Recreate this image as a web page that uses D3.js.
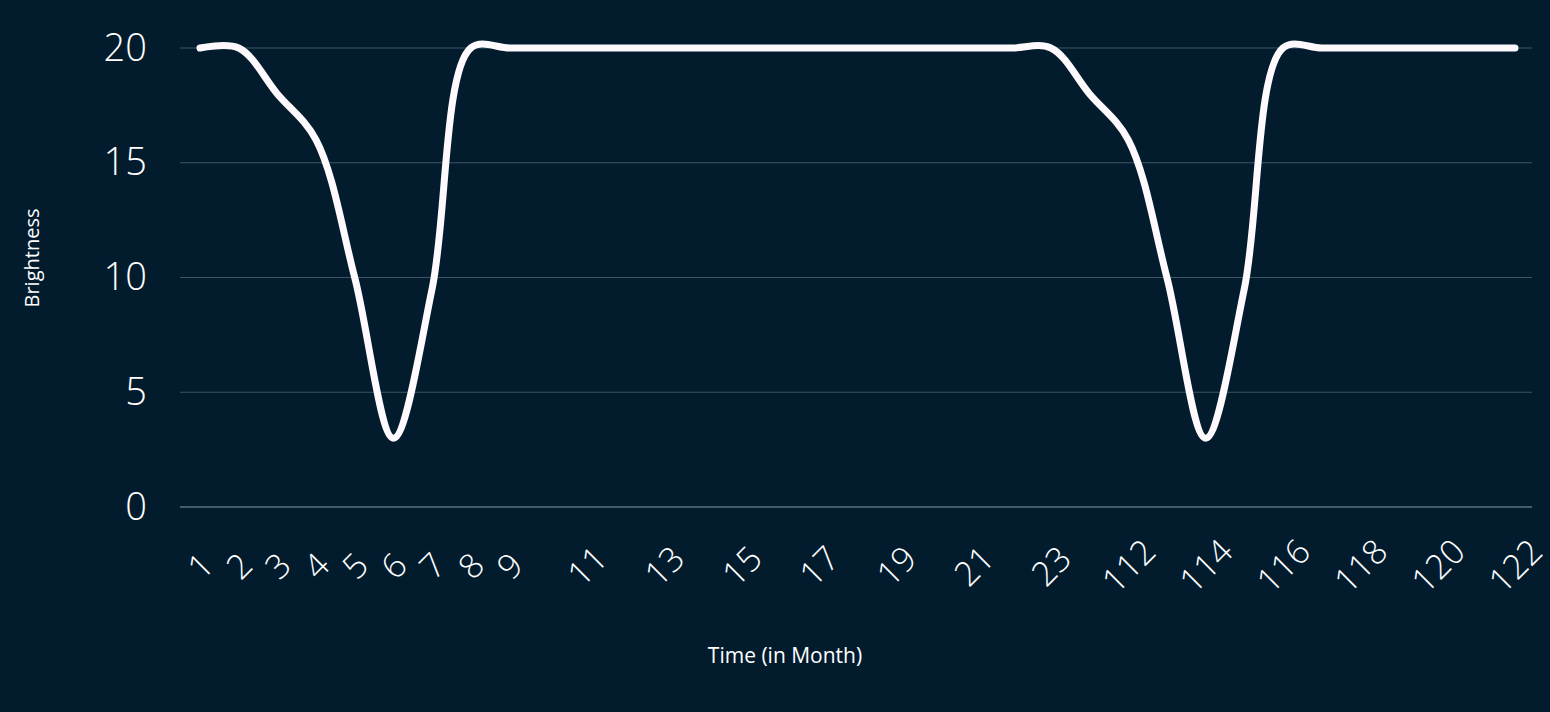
<!DOCTYPE html>
<html><head><meta charset="utf-8">
<script src="https://cdn.jsdelivr.net/npm/d3@7"></script>
<style>body{margin:0;background:#021c2e;}svg{display:block;font-family:"Open Sans",sans-serif;}</style>
</head><body>
<svg id="chart" width="1550" height="712"></svg>
<script>
const months = [1,2,3,4,5,6,7,8,9,10,11,12,13,14,15,16,17,18,19,20,21,22,23,
                111,112,113,114,115,116,117,118,119,120,121,122];
const brightness = [20,20,18,16,10,3,9.5,20,20,20,20,20,20,20,20,20,20,20,20,20,20,20,20,
                    18,16,10,3,9.5,20,20,20,20,20,20,20];
const shownLabels = [1,2,3,4,5,6,7,8,9,11,13,15,17,19,21,23,112,114,116,118,120,122];
const yTicks = [0,5,10,15,20];

const svg = d3.select("#chart");
const W = 1550, H = 712;
svg.append("rect").attr("width",W).attr("height",H).attr("fill","#021c2e");

const x = d3.scalePoint().domain(months).range([200,1515]);
const y = d3.scaleLinear().domain([0,20]).range([507,48]);

// gridlines
svg.append("g").selectAll("line").data(yTicks).join("line")
  .attr("x1",180).attr("x2",1532)
  .attr("y1",d=>y(d)).attr("y2",d=>y(d))
  .attr("stroke",d=>d==0?"#8a9aa6":"#3d5564").attr("stroke-width",1.2);

// y axis labels
const yAxis = d3.axisLeft(y).tickValues(yTicks).tickSize(0).tickPadding(0);
svg.append("g").attr("transform","translate(147,0)").call(yAxis)
  .call(g=>g.select(".domain").remove())
  .selectAll("text").attr("fill","#fff").attr("font-size",38).attr("font-weight",300)
  .attr("font-family","Open Sans, sans-serif");

// x axis labels
const xAxis = d3.axisBottom(x).tickValues(shownLabels).tickSize(0).tickPadding(0);
svg.append("g").attr("transform","translate(0,566)").call(xAxis)
  .call(g=>g.select(".domain").remove())
  .selectAll("text").attr("fill","#fff").attr("font-size",34).attr("font-weight",300)
  .attr("font-family","Open Sans, sans-serif")
  .attr("transform","rotate(-45)").attr("dy","0.35em").attr("text-anchor","middle");

// line
const line = d3.line().x((d,i)=>x(months[i])).y(d=>y(d)).curve(d3.curveCatmullRom.alpha(0.5));
svg.append("path").datum(brightness).attr("d",line)
  .attr("fill","none").attr("stroke","#fdf9fc").attr("stroke-width",7)
  .attr("stroke-linecap","round").attr("stroke-linejoin","round");

// titles
svg.append("text").attr("x",785).attr("y",663).attr("text-anchor","middle")
  .attr("fill","#fff").attr("font-size",21).text("Time (in Month)");
svg.append("text").attr("transform","translate(39,258) rotate(-90)").attr("text-anchor","middle")
  .attr("fill","#fff").attr("font-size",20).text("Brightness");
</script>
</body></html>
